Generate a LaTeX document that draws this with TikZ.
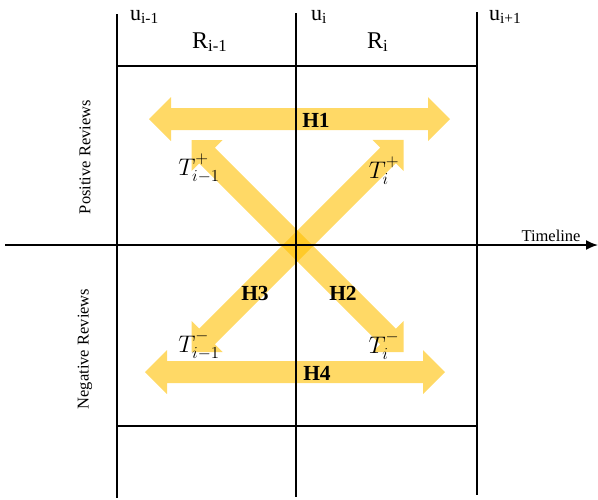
\documentclass[tikz,border=0pt]{standalone}
\usepackage{fix-cm}
\usepackage{fontspec}
\setmainfont{Liberation Serif}
\usetikzlibrary{arrows.meta, positioning}

\definecolor{gold}{RGB}{255,192,0}

\newcommand{\dblarrow}[3]{%
  \fill[band, shift={#1}, rotate=#2] (0,0) -- (22,-22) -- (22,-11) -- (#3-22,-11) -- (#3-22,-22)
    -- (#3,0) -- (#3-22,22) -- (#3-22,11) -- (22,11) -- (22,22) -- cycle;}

\begin{document}
\begin{tikzpicture}[
    x=1pt, y=-1pt,
    band/.style={fill=gold, fill opacity=0.6},
    rule/.style={line width=1.8pt},
    ulab/.style={anchor=base west, inner sep=0pt, font=\fontsize{22}{25}\selectfont},
    rlab/.style={anchor=base west, inner sep=0pt, font=\fontsize{24}{28}\selectfont},
    side/.style={rotate=90, inner sep=0pt, font=\fontsize{16.5}{19}\selectfont},
    tlab/.style={inner sep=0pt, font=\fontsize{24}{27}\selectfont},
    hlab/.style={inner sep=0pt, font=\fontsize{21.5}{24}\selectfont\bfseries}
  ]
  \useasboundingbox (0,0) rectangle (598,499);

  % yellow arrows
  \dblarrow{(149,119)}{0}{301}
  \dblarrow{(145,372)}{0}{300}
  \dblarrow{(191.5,140)}{-45}{300}
  \dblarrow{(191.5,352)}{45}{300}

  % grid
  \coordinate (a0) at (117,14);  \coordinate (a1) at (117,498);
  \coordinate (b0) at (296,13);  \coordinate (b1) at (296,497);
  \coordinate (c0) at (477,12);  \coordinate (c1) at (477,495);
  \coordinate (top0) at (117,66);  \coordinate (top1) at (477,66);
  \coordinate (bot0) at (117,426); \coordinate (bot1) at (477,426);
  \coordinate (tl0) at (5,245);    \coordinate (tl1) at (598,245);

  \draw[rule] (a0) -- (a1);
  \draw[rule] (b0) -- (b1);
  \draw[rule] (c0) -- (c1);
  \draw[rule] (top0) -- (top1);
  \draw[rule] (bot0) -- (bot1);
  \draw[rule, -{Latex[length=12pt, width=10pt]}] (tl0) -- (tl1);

  \node[ulab] (u0) at (130,20) {u\textsubscript{i-1}};
  \node[ulab] (u1) at (311,20) {u\textsubscript{i}};
  \node[ulab] (u2) at (489,20) {u\textsubscript{i+1}};
  \node[rlab] (r0) at (192,48) {R\textsubscript{i-1}};
  \node[rlab] (r1) at (367,48) {R\textsubscript{i}};

  \node[side] (pos) at (85,157) {Positive Reviews};
  \node[side] (neg) at (85,349) {Negative Reviews};
  \node[anchor=base, inner sep=0pt, font=\fontsize{16.5}{19}\selectfont] (time) at (551,241) {Timeline};

  \node[tlab] (tp0) at (199,168) {$T^{+\mathstrut}_{i-1\mathstrut}$};
  \node[tlab] (tp1) at (384,171) {$T^{+\mathstrut}_{i\mathstrut}$};
  \node[tlab] (tn0) at (199,345) {$T^{-\mathstrut}_{i-1\mathstrut}$};
  \node[tlab] (tn1) at (384,346) {$T^{-\mathstrut}_{i\mathstrut}$};

  \node[hlab] (h1) at (316,120) {H1};
  \node[hlab] (h2) at (343,293) {H2};
  \node[hlab] (h3) at (255,293) {H3};
  \node[hlab] (h4) at (317,373) {H4};
\end{tikzpicture}
\end{document}
